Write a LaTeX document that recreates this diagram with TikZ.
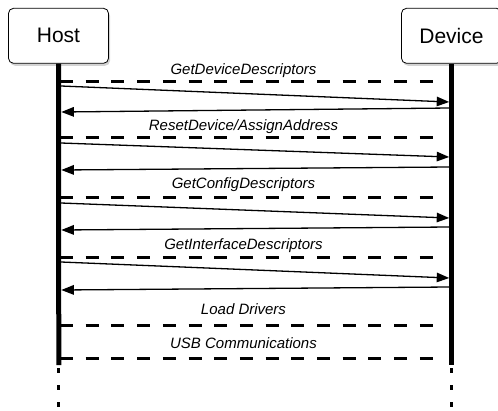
\documentclass[tikz,border=0pt]{standalone}
\usepackage{fontspec}
\setmainfont{Liberation Sans}
\usetikzlibrary{positioning, arrows.meta, shadows}
\tikzset{
	>={Triangle[length=12.5pt, width=9.5pt]},
	x=1pt, y=-1pt,
	actor/.style={draw, line width=0.8pt, rounded corners=5pt, fill=white,
		minimum width=100pt, minimum height=55pt, font=\fontsize{21}{25}\selectfont,
		drop shadow={shadow xshift=1.5pt, shadow yshift=-2.5pt, opacity=.35}},
	life/.style={line width=5pt},
	ghost/.style={line width=3.2pt, dash pattern=on 5pt off 12pt},
	phase/.style={line width=3pt, dash pattern=on 13pt off 12.7pt},
	msg/.style={->, line width=1.3pt},
	lbl/.style={font=\fontsize{15}{18}\selectfont\itshape, anchor=base}}

\begin{document}
\begin{tikzpicture}
	\useasboundingbox (0,0) rectangle (498,410);

	\node[actor] (host) at (58.5,35.8) {Host};
	\node[actor] (device) at (451.5,35.8) {Device};

	\coordinate (hostEnd) at (58.8,365);
	\coordinate (deviceEnd) at (451.5,365);
	\coordinate (hostFoot) at (58.8,412);
	\coordinate (deviceFoot) at (451.5,412);

	\draw[life] (host.south) -- (hostEnd);
	\draw[life] (device.south) -- (deviceEnd);
	\draw[ghost] ([yshift=-3pt]hostEnd) -- (hostFoot);
	\draw[ghost] ([yshift=-3pt]deviceEnd) -- (deviceFoot);

	\foreach \y/\b/\txt [count=\i] in {81/74/GetDeviceDescriptors,
			137/130/{ResetDevice/AssignAddress}, 197/188/GetConfigDescriptors,
			257/249/GetInterfaceDescriptors, 325/314/Load Drivers,
			358/348/USB Communications}{
		\coordinate (ph\i) at (60,\y);
		\coordinate (pd\i) at (441,\y);
		\draw[phase] (ph\i) -- (pd\i);
		\node[lbl] (step\i) at (243.5,\b) {\txt};
	}

	\foreach \a/\b/\c/\d [count=\i] in {86/102/108/112, 143/157/167/170,
			203/218/227/230, 262/278/287/290}{
		\coordinate (hq\i) at (61,\a);
		\coordinate (dq\i) at (449.2,\b);
		\coordinate (dr\i) at (449.5,\c);
		\coordinate (hr\i) at (61.3,\d);
		\draw[msg] (hq\i) -- (dq\i);
		\draw[msg] (dr\i) -- (hr\i);
	}

\end{tikzpicture}
\end{document}
